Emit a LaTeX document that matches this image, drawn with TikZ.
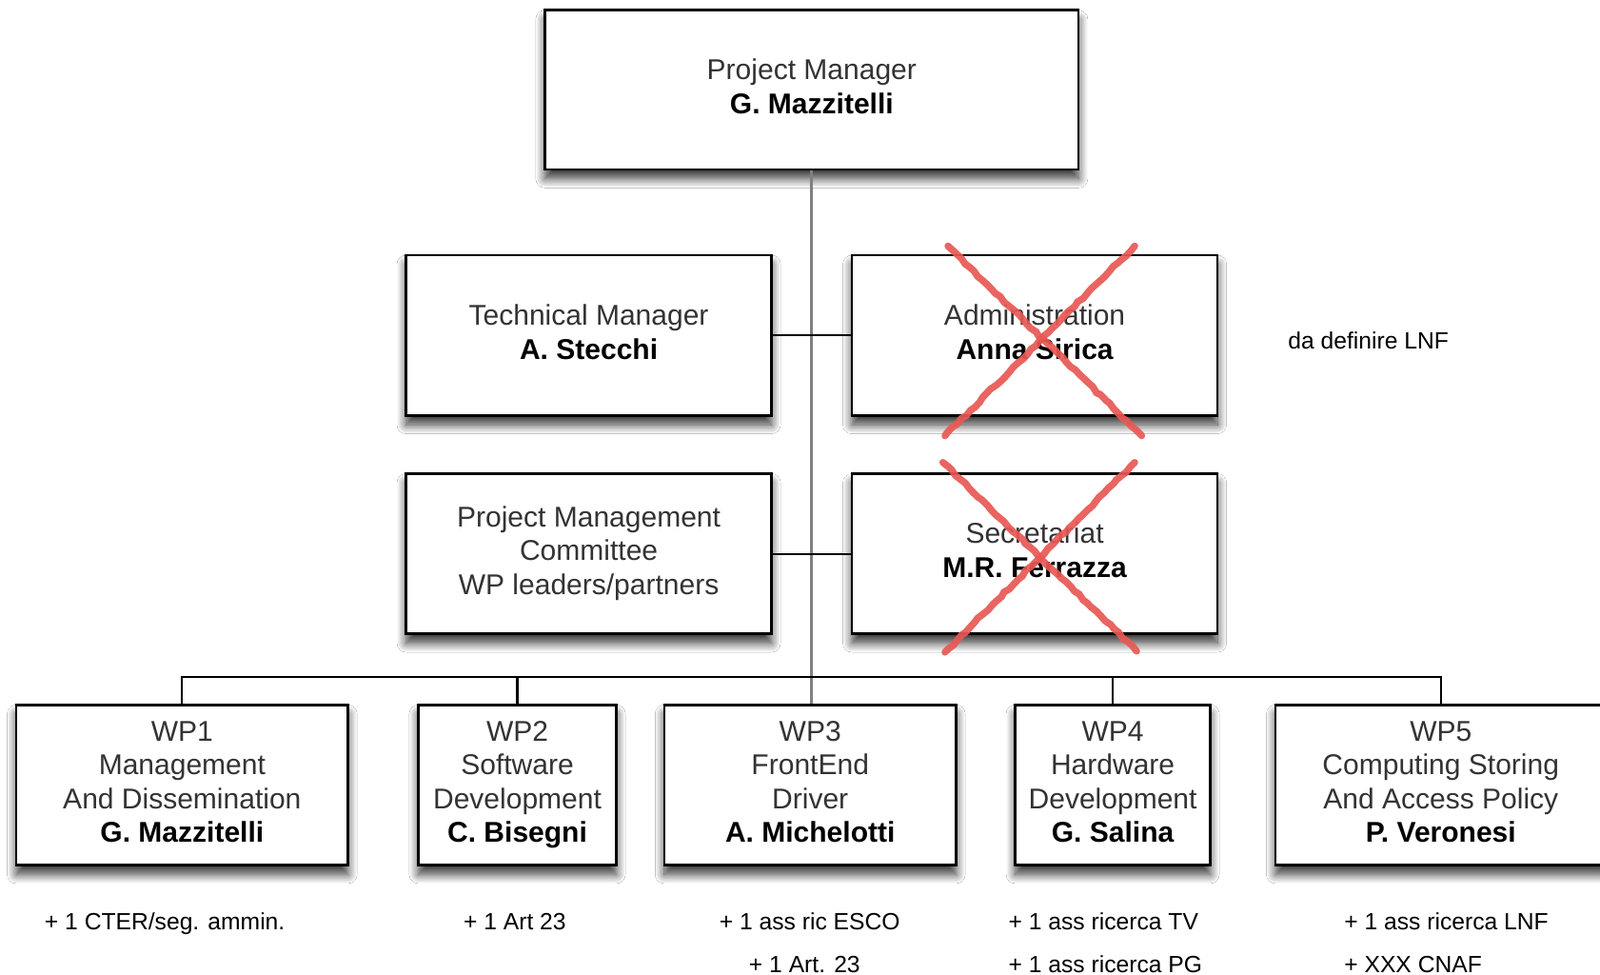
\documentclass[tikz,border=0pt]{standalone}
\usepackage{fontspec}
\setmainfont{Liberation Sans}
\usetikzlibrary{shadows.blur,decorations.pathmorphing}
\definecolor{crossred}{RGB}{232,88,84}
\begin{document}
\begin{tikzpicture}[x=0.5pt,y=-0.5pt,
  box/.style={draw=black, line width=1.2pt, fill=white, align=center, inner sep=0pt,
    minimum height=78.5pt,
    blur shadow={shadow xshift=0pt, shadow yshift=-4.5pt, shadow blur steps=12, shadow opacity=80, shadow blur radius=4.5pt},
    font=\fontsize{14}{16.6}\selectfont, text=black!80},
  note/.style={font=\fontsize{11.5}{14}\selectfont, inner sep=0pt, text=black},
  conn/.style={draw=black, line width=1pt},
  trunk/.style={draw=black!50, line width=1.3pt},
  cross/.style={draw=crossred, line width=3.4pt, opacity=0.92, line cap=round,
    decorate, decoration={random steps, segment length=3pt, amplitude=0.5pt}}]
\useasboundingbox (0,0) rectangle (1568,955);
\fill[white] (0,0) rectangle (1568,955);

\coordinate (busy) at (0,663);
\node[box, minimum width=261.5pt, minimum height=78pt] (top) at (795.5,88) {Project Manager\strut\\ {\bfseries\color{black}G. Mazzitelli}\strut};
\node[box, minimum width=179pt] (tech) at (577,328.5) {Technical Manager\strut\\ {\bfseries\color{black}A. Stecchi}\strut};
\node[box, minimum width=179pt] (admin) at (1014,328.5) {Administration\strut\\ {\bfseries\color{black}Anna Sirica}\strut};
\node[box, minimum width=179pt] (pmc) at (577,542.5) {Project Management\strut\\ Committee\\ WP leaders/partners\strut};
\node[box, minimum width=179pt] (secr) at (1014,542.5) {Secretariat\strut\\ {\bfseries\color{black}M.R. Ferrazza}\strut};

\node[box, minimum width=162.5pt] (wp1) at (178.5,769) {WP1\strut\\ Management\\ And Dissemination\\ {\bfseries\color{black}G. Mazzitelli}\strut};
\node[box, minimum width=97pt] (wp2) at (507,769) {WP2\strut\\ Software\\ Development\\ {\bfseries\color{black}C. Bisegni}\strut};
\node[box, minimum width=143pt] (wp3) at (794,769) {WP3\strut\\ FrontEnd\\ Driver\\ {\bfseries\color{black}A. Michelotti}\strut};
\node[box, minimum width=95.5pt] (wp4) at (1090.5,769) {WP4\strut\\ Hardware\\ Development\\ {\bfseries\color{black}G. Salina}\strut};
\node[box, minimum width=162pt] (wp5) at (1412,769) {WP5\strut\\ Computing Storing\\ And Access Policy\\ {\bfseries\color{black}P. Veronesi}\strut};

% connectors
\draw[trunk] (top.south) -- (top.south |- wp3.north);
\draw[conn] (tech.east) -- (admin.west);
\draw[conn] (pmc.east) -- (secr.west);
\draw[conn] (wp1.north) -- (wp1.north |- busy) -- (wp5.north |- busy) -- (wp5.north);
\draw[conn] (wp2.north) -- (wp2.north |- busy);
\draw[conn] (wp4.north) -- (wp4.north |- busy);

% red crosses
\coordinate (a1) at (929,241); \coordinate (a2) at (1119,427);
\coordinate (a3) at (1112,241); \coordinate (a4) at (926,427);
\coordinate (s1) at (924,453); \coordinate (s2) at (1114,638);
\coordinate (s3) at (1112,453); \coordinate (s4) at (926,639);
\draw[cross] (a1) -- (a2);
\draw[cross] (a3) -- (a4);
\draw[cross] (s1) -- (s2);
\draw[cross] (s3) -- (s4);

% notes
\node[note, anchor=base west] (lnf) at (1262,342) {da definire LNF};
\node[note, anchor=base] (n1) at (161.5,911) {+ 1 CTER/seg. ammin.};
\node[note, anchor=base] (n2) at (504.5,911) {+ 1 Art 23};
\node[note, anchor=base] (n3a) at (793.5,911) {+ 1 ass ric ESCO};
\node[note, anchor=base] (n3b) at (788.5,953) {+ 1 Art. 23};
\node[note, anchor=base west] (n4a) at (988,911) {+ 1 ass ricerca TV};
\node[note, anchor=base west] (n4b) at (988,953) {+ 1 ass ricerca PG};
\node[note, anchor=base west] (n5a) at (1317,911) {+ 1 ass ricerca LNF};
\node[note, anchor=base west] (n5b) at (1317,953) {+ XXX CNAF};
\end{tikzpicture}
\end{document}
